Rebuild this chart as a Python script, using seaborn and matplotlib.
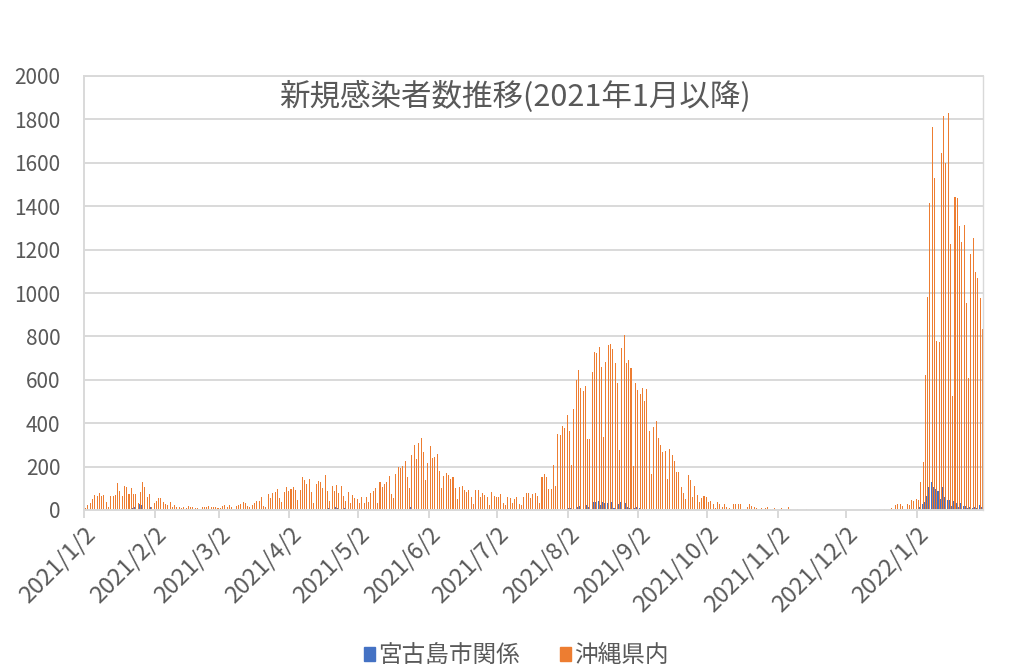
#!/usr/bin/env python
# Daily new cases in Okinawa / Miyakojima since Jan 2021, clustered bars

import numpy as np
import pandas as pd
import seaborn as sns
import matplotlib.pyplot as plt
from matplotlib.patches import Patch


# Daily counts, one value per day starting 2021/1/2
okinawa = [
    # 2021/1/2 - 2021/2/1
    8, 23, 31, 51, 69, 65, 77, 65, 69, 37, 15, 65, 65, 69, 123, 88, 65, 111,
    105, 72, 100, 74, 74, 31, 82, 128, 105, 58, 74, 15, 31,
    # 2021/2/2 - 2021/3/1
    42, 54, 54, 38, 26, 23, 35, 15, 23, 15, 12, 11, 15, 8, 18, 15, 15, 11, 8,
    6, 12, 12, 15, 18, 15, 12, 15, 11,
    # 2021/3/2 - 2021/5/10
    11, 18, 23, 12, 23,
    12, 6, 18, 23, 28, 37, 31, 18, 15, 23, 34, 42, 42, 58, 18, 15, 74, 55, 77,
    85, 97, 55, 38, 85, 108, 89, 97, 108, 92, 46, 92, 154, 138, 120, 143, 85,
    34, 120, 134, 128, 103, 162, 88, 43, 111, 88, 115, 80, 111, 66, 42, 85, 34,
    71, 57, 51, 31, 62, 31, 62, 38, 80, 88, 103, 34,
    # 2021/5/11 - 2021/7/14
    131, 108, 120, 131, 157, 74, 57, 166, 200, 195, 203, 226, 154, 103, 254,
    300, 235, 311, 334, 269, 138, 218, 295, 238, 246, 260, 180, 103, 157, 172,
    162, 143, 152, 103, 51, 108, 112, 92, 83, 92, 60, 29, 92, 92, 60, 78, 69,
    60, 23, 83, 65, 60, 60, 74, 32, 23, 60, 55, 32, 51, 60, 28, 23, 60, 78,
    # 2021/7/15 - 2021/9/17
    77, 54, 74, 77, 65, 34, 154, 166, 154, 97, 97, 207, 112, 350, 346, 387,
    380, 438, 364, 207, 465, 599, 645, 561, 548, 571, 327, 327, 637, 730, 722,
    753, 657, 338, 684, 760, 765, 741, 679, 584, 276, 748, 806, 679, 691, 653,
    204, 584, 553, 535, 561, 502, 556, 364, 166, 384, 410, 330, 300, 269, 272,
    143, 281, 253, 226,
    # 2021/9/18 - 2021/11/6
    177, 174, 108, 80, 49, 161, 138, 62, 111, 69, 38, 54, 65, 62, 38, 42, 26,
    8, 37, 28, 15, 28, 12, 9, 3, 28, 28, 28, 28, 3, 3, 15, 28, 18, 15, 9, 6, 8,
    3, 8, 12, 5, 6, 9, 2, 2, 8, 5, 6, 14,
    # 2021/11/7 - 2022/1/2
    3, 2, 0, 4, 1, 2, 0, 3, 1, 0, 2, 1, 0, 0, 1, 2, 0, 0, 1, 0, 0, 1, 0, 0, 0,
    1, 0, 0, 0, 1, 0, 0, 0, 1, 5, 0, 1, 0, 2, 5, 0, 5, 1, 2, 9, 5, 23, 28, 28,
    18, 3, 28, 23, 46, 42, 51, 46,
    # 2022/1/3 - 2022/1/30
    131, 223, 622, 983, 1416, 1763, 1532, 778, 776, 1647, 1816, 1597, 1830,
    1228, 527, 1444, 1436, 1310, 1237, 1313, 956, 610, 1179, 1255, 1098, 1071,
    979, 835,
]

# Miyakojima-related cases, only the days that are not zero
miyako = {
    "2021-01-12": 3, "2021-01-16": 5, "2021-01-20": 3, "2021-01-23": 10,
    "2021-01-24": 12, "2021-01-26": 28, "2021-01-27": 22, "2021-01-31": 15,
    "2021-02-03": 3,
    "2021-04-16": 5, "2021-04-19": 10, "2021-04-22": 12, "2021-04-23": 10,
    "2021-04-26": 8, "2021-05-03": 5, "2021-05-04": 5, "2021-05-20": 5,
    "2021-05-21": 5, "2021-05-25": 15, "2021-05-30": 5, "2021-05-31": 5,
    "2021-06-03": 5, "2021-06-04": 5, "2021-06-07": 5, "2021-06-17": 5,
    "2021-06-21": 5,
    "2021-08-02": 8, "2021-08-03": 8, "2021-08-06": 15, "2021-08-07": 18,
    "2021-08-10": 23, "2021-08-11": 15, "2021-08-13": 35, "2021-08-14": 35,
    "2021-08-15": 41, "2021-08-16": 23, "2021-08-17": 35, "2021-08-18": 31,
    "2021-08-19": 31, "2021-08-21": 37, "2021-08-22": 8, "2021-08-24": 26,
    "2021-08-25": 37, "2021-08-27": 31, "2021-08-28": 15, "2021-08-29": 11,
    "2021-08-31": 8, "2021-09-01": 12, "2021-09-02": 11, "2021-09-04": 5,
    "2021-09-09": 3, "2021-09-14": 3,
    "2022-01-02": 5, "2022-01-03": 12, "2022-01-04": 27, "2022-01-05": 38,
    "2022-01-06": 65, "2022-01-07": 108, "2022-01-08": 130, "2022-01-09": 108,
    "2022-01-10": 95, "2022-01-11": 88, "2022-01-12": 49, "2022-01-13": 108,
    "2022-01-14": 61, "2022-01-15": 46, "2022-01-16": 45, "2022-01-17": 20,
    "2022-01-18": 42, "2022-01-19": 31, "2022-01-20": 15, "2022-01-21": 34,
    "2022-01-22": 18, "2022-01-23": 18, "2022-01-24": 10, "2022-01-25": 15,
    "2022-01-26": 8, "2022-01-27": 16, "2022-01-28": 9, "2022-01-29": 23,
    "2022-01-30": 15,
}

series_names = ["宮古島市関係", "沖縄県内"]
series_colors = ["#4472C4", "#ED7D31"]
title = "新規感染者数推移(2021年1月以降)"
text_color = "#595959"
grid_color = "#D9D9D9"

# Build the long table
dates = pd.date_range("2021-01-02", periods=len(okinawa), freq="D")
miyako_vals = [miyako.get(d.strftime("%Y-%m-%d"), 0) for d in dates]
day_idx = np.arange(len(dates))
plot_df = pd.concat([
    pd.DataFrame({"day": day_idx, "count": miyako_vals, "series": series_names[0]}),
    pd.DataFrame({"day": day_idx, "count": okinawa, "series": series_names[1]}),
])

sns.set_theme(style="white")
plt.rcParams['font.family'] = ['Noto Sans CJK JP', 'DejaVu Sans']

fig = plt.figure(figsize=(10.09, 6.72), dpi=100)
ax = fig.add_axes([84 / 1009, 1 - 510 / 672, (983 - 84) / 1009, (510 - 76) / 672])

sns.barplot(
    data=plot_df, x="day", y="count", hue="series",
    hue_order=series_names, palette=series_colors,
    errorbar=None, width=0.9, saturation=1, linewidth=0,
    legend=False, ax=ax
)

# Axes styling
ax.set_xlim(-0.5, len(dates) - 0.5)
ax.set_ylim(0, 2000)
ax.set_yticks(range(0, 2001, 200))
ax.yaxis.grid(True, color=grid_color, linewidth=1.4)
ax.set_axisbelow(True)
ax.set_xlabel("")
ax.set_ylabel("")
for side in ["left", "right", "bottom", "top"]:
    ax.spines[side].set_color(grid_color)
    ax.spines[side].set_linewidth(1.4)
ax.spines["right"].set_linewidth(1.0)

# Month ticks on the 2nd of each month, at the left edge of the day
tick_pos = [i - 0.5 for i, d in enumerate(dates) if d.day == 2]
tick_lab = [f"{d.year}/{d.month}/{d.day}" for d in dates if d.day == 2]
ax.set_xticks(tick_pos)
ax.set_xticklabels(tick_lab, rotation=45, ha="right", rotation_mode="anchor")
ax.tick_params(axis="x", length=6, width=1.4, color=grid_color, direction="out",
               labelsize=17, labelcolor=text_color, pad=3, bottom=True)
ax.tick_params(axis="y", length=0, labelsize=15, labelcolor=text_color, pad=17)

ax.text(0.479, 0.952, title, transform=ax.transAxes, ha="center", va="center",
        fontsize=22, color=text_color)

handles = [Patch(color=c) for c in series_colors]
leg = fig.legend(handles, series_names, loc="center", bbox_to_anchor=(0.512, 1 - 656 / 672),
                 ncol=2, frameon=False, fontsize=17, handlelength=0.45,
                 handleheight=0.5, handletextpad=0.15, columnspacing=1.7)
for t in leg.get_texts():
    t.set_color(text_color)

fig.savefig("out.png", dpi=100)
